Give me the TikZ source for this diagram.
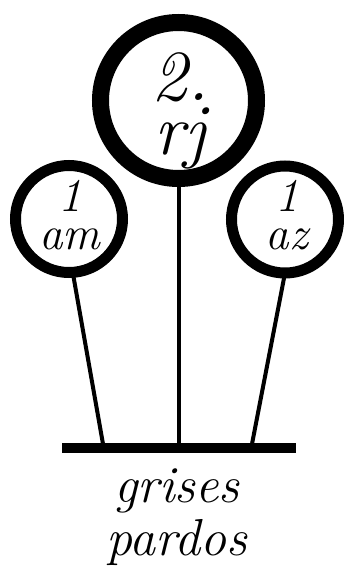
\documentclass[tikz,border=0pt]{standalone}
\tikzset{
  ring/.style={circle, draw, inner sep=0pt, outer sep=0pt, line width=#1},
  stem/.style={line width=4pt},
  lbl/.style={anchor=base, inner sep=0pt, font=\itshape, align=center},
}
\newcommand{\fsz}[2]{\fontsize{#1}{#2}\selectfont}
\begin{document}
\begin{tikzpicture}[x=1pt,y=-1pt]
\useasboundingbox (0,0) rectangle (344,568);
% circles
\node[ring=17pt, minimum size=156pt] (rj) at (178.5,100.5) {};
\node[ring=11pt, minimum size=107pt] (am) at (69,219) {};
\node[ring=11pt, minimum size=107pt] (az) at (285,219.5) {};
% bar
\node[fill, inner sep=0pt, minimum width=234pt, minimum height=10pt] (bar) at (179,448) {};
\coordinate (bl) at (103,444);
\coordinate (bm) at (178.5,444);
\coordinate (br) at (252,444);
% stems
\draw[stem] (rj.south) -- (bm);
\draw[stem] (am.-86) -- (bl);
\draw[stem] (az.-90) -- (br);
% labels
\node[lbl, font=\itshape\fsz{72}{54}] (trj) at (180,154) {2.\\rj};
\node[lbl, font=\itshape\fsz{47}{38}] (tam) at (70,249) {1\\am};
\node[lbl, font=\itshape\fsz{47}{38}] (taz) at (287,249) {1\\az};
\node[lbl, font=\itshape\fsz{52}{53}] (tg) at (177,555) {grises\\pardos};
\end{tikzpicture}
\end{document}
